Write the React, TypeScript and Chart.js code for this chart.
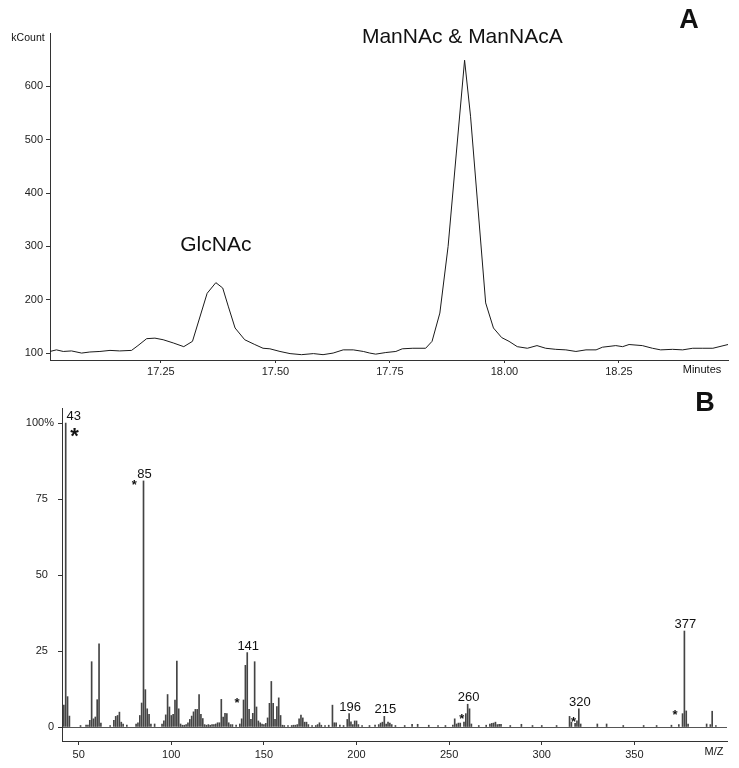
import React, { useEffect, useRef } from "react";
import { Chart, registerables } from "chart.js";

Chart.register(...registerables);

const FONT = "'Liberation Sans', Arial, Helvetica, sans-serif";

// ---------- Panel A : chromatogram ----------
const chromTime = [
  17.008, 17.022, 17.037, 17.055, 17.077, 17.095, 17.117, 17.139, 17.16, 17.186,
  17.2, 17.219, 17.237, 17.255, 17.277, 17.3, 17.319, 17.351, 17.37, 17.385,
  17.397, 17.412, 17.433, 17.455, 17.473, 17.488, 17.51, 17.532, 17.557, 17.583,
  17.604, 17.626, 17.648, 17.67, 17.692, 17.706, 17.719, 17.741, 17.763, 17.777,
  17.8, 17.828, 17.842, 17.859, 17.877, 17.895, 17.913, 17.926, 17.959, 17.976,
  17.994, 18.01, 18.028, 18.05, 18.071, 18.09, 18.112, 18.134, 18.156, 18.178,
  18.2, 18.214, 18.243, 18.258, 18.272, 18.301, 18.323, 18.341, 18.367, 18.389,
  18.411, 18.433, 18.455, 18.488,
];
const chromCount = [
  103, 106, 103, 104, 100, 102, 103, 105, 104, 105,
  114, 127, 128, 125, 119, 112, 122, 212, 232, 222,
  188, 147, 125, 116, 109, 108, 103, 99, 97, 99,
  97, 100, 106, 106, 103, 100, 98, 101, 103, 108,
  109, 109, 122, 175, 300, 475, 649, 544, 194, 147,
  129, 122, 112, 109, 114, 109, 107, 106, 103, 106,
  106, 111, 114, 112, 116, 114, 109, 106, 107, 106,
  109, 109, 109, 116,
];
const chromXTicks = [17.25, 17.5, 17.75, 18.0, 18.25];
const chromYTicks = [100, 200, 300, 400, 500, 600];
const peakNames = ["GlcNAc", "ManNAc & ManNAcA"];
const peakNameTime = [17.37, 17.908];
const peakNameCount = [303, 693];

// ---------- Panel B : mass spectrum ----------
const specMz = [
  42, 43, 44, 45, 51, 54, 55, 56, 57, 58, 59, 60, 61, 62, 67, 69, 70, 71, 72, 73,
  74, 76, 81, 82, 83, 84, 85, 86, 87, 88, 89, 91, 95, 96, 97, 98, 99, 100, 101, 102,
  103, 104, 105, 106, 107, 108, 109, 110, 111, 112, 113, 114, 115, 116, 117, 118, 119, 120, 121, 122,
  123, 124, 125, 126, 127, 128, 129, 130, 131, 132, 133, 135, 137, 138, 139, 140, 141, 142, 143, 144,
  145, 146, 147, 148, 149, 150, 151, 152, 153, 154, 155, 156, 157, 158, 159, 160, 161, 163, 165, 166,
  167, 168, 169, 170, 171, 172, 173, 174, 176, 178, 179, 180, 181, 183, 185, 187, 188, 189, 191, 193,
  195, 196, 197, 198, 199, 200, 201, 203, 207, 210, 212, 213, 214, 215, 216, 217, 218, 219, 221, 226,
  230, 233, 239, 244, 248, 252, 253, 254, 255, 256, 258, 259, 260, 261, 262, 266, 270, 272, 273, 274,
  275, 276, 277, 278, 283, 289, 295, 300, 308, 315, 316, 318, 319, 320, 321, 330, 335, 344, 355, 362,
  370, 374, 376, 377, 378, 379, 389, 391, 392, 394,
];
const specPct = [
  7.2, 100, 10, 3.6, 0.5, 0.6, 0.6, 2.2, 21.5, 2.7, 3.3, 9, 27.4, 1.3, 0.5, 2.2, 3.5, 3.8, 4.9, 1.6,
  1.0, 0.6, 1.0, 1.4, 3.8, 7.9, 81, 12.3, 6, 4.2, 1.0, 1.0, 1.0, 2, 4, 10.7, 6.6, 3.8, 4.2, 8.9,
  21.7, 6, 1.0, 0.6, 0.6, 0.8, 1.4, 2.5, 3.6, 5, 5.8, 5.8, 10.7, 4.2, 2.8, 0.8, 0.6, 0.8, 0.6, 0.8,
  0.8, 1.0, 1.4, 1.4, 9.1, 3.3, 4.5, 4.4, 1.4, 0.8, 0.8, 0.6, 1.0, 2.7, 8.9, 20.3, 24.5, 5.8, 2.5, 4.5,
  21.5, 6.6, 2.0, 1.4, 1.0, 0.8, 1.2, 3, 7.8, 15, 7.8, 2.5, 6.7, 9.6, 3.8, 0.6, 0.5, 0.5, 0.5, 0.6,
  0.6, 0.8, 2.7, 3.9, 3, 1.6, 1.6, 0.8, 0.5, 0.5, 0.8, 1.4, 0.6, 0.5, 0.6, 7.2, 1.4, 1.4, 0.6, 0.5,
  2.5, 4.4, 1.7, 0.8, 2.0, 2.0, 0.8, 0.5, 0.5, 0.6, 0.8, 1.3, 1.6, 3.5, 1.0, 1.6, 1.3, 0.8, 0.5, 0.5,
  0.9, 0.9, 0.6, 0.5, 0.5, 0.6, 2.7, 1.0, 1.3, 1.3, 1.6, 4.4, 7.5, 6, 1.0, 0.5, 0.6, 1.0, 1.2, 1.3,
  1.6, 0.8, 0.9, 0.9, 0.5, 0.9, 0.5, 0.5, 0.5, 3.5, 1.6, 1.2, 2.0, 6, 1.0, 1.0, 1.0, 0.5, 0.5, 0.5,
  0.6, 0.8, 4.4, 31.6, 5.3, 1.0, 1.0, 0.8, 5.2, 0.5,
];
const specXTicks = [50, 100, 150, 200, 250, 300, 350];
const specYTicks = [0, 25, 50, 75, 100];
const peakLabels = [43, 85, 141, 196, 215, 260, 320, 377];
const starMz = [47.7, 80, 135.5, 256.8, 317.1, 372];
const starPct = [97.6, 80.8, 9.1, 3.8, 2.9, 5.2];

const AXIS = "#333";

const chromPlugin = {
  id: "chromText",
  afterDraw(chart: any) {
    const { ctx, chartArea, scales } = chart;
    const x = scales.x;
    const y = scales.y;
    ctx.save();
    ctx.fillStyle = "#111";
    ctx.textAlign = "center";
    ctx.textBaseline = "middle";
    ctx.font = `21px ${FONT}`;
    peakNames.forEach((n, i) => {
      ctx.fillText(n, x.getPixelForValue(peakNameTime[i]), y.getPixelForValue(peakNameCount[i]));
    });
    ctx.font = `bold 27px ${FONT}`;
    ctx.fillText("A", chartArea.right - 39, chartArea.top - 12);
    ctx.font = `10.5px ${FONT}`;
    ctx.fillText("kCount", chartArea.left - 22, chartArea.top + 5);
    ctx.font = `11px ${FONT}`;
    ctx.fillText("Minutes", chartArea.right - 26, chartArea.bottom + 10);
    ctx.restore();
  },
};

const specPlugin = {
  id: "specText",
  afterDraw(chart: any) {
    const { ctx, chartArea, scales } = chart;
    const x = scales.x;
    const y = scales.y;
    ctx.save();
    ctx.fillStyle = "#111";
    ctx.textAlign = "center";
    ctx.textBaseline = "alphabetic";
    ctx.font = `13px ${FONT}`;
    peakLabels.forEach((m) => {
      const idx = specMz.indexOf(m);
      const top = y.getPixelForValue(specPct[idx]);
      const dx = m === 43 ? 8 : 1;
      ctx.fillText(String(m), x.getPixelForValue(m) + dx, top - 3);
    });
    starMz.forEach((m, i) => {
      const size = i === 0 ? 22 : 13;
      ctx.font = `bold ${size}px ${FONT}`;
      ctx.fillText("*", x.getPixelForValue(m), y.getPixelForValue(starPct[i]) + size * 0.57);
    });
    ctx.font = `bold 27px ${FONT}`;
    ctx.fillText("B", chartArea.right - 22, chartArea.top + 3);
    ctx.font = `11px ${FONT}`;
    ctx.fillText("M/Z", chartArea.right - 13, chartArea.bottom + 14);
    ctx.restore();
  },
};

export default function App() {
  const refA = useRef<HTMLCanvasElement>(null);
  const refB = useRef<HTMLCanvasElement>(null);

  useEffect(() => {
    Chart.defaults.font.family = FONT;
    Chart.defaults.color = "#222";

    const chartA = new Chart(refA.current as HTMLCanvasElement, {
      type: "line",
      data: {
        datasets: [
          {
            data: chromTime.map((t, i) => ({ x: t, y: chromCount[i] })),
            borderColor: "#1a1a1a",
            borderWidth: 1,
            pointRadius: 0,
            tension: 0,
            fill: false,
          },
        ],
      },
      options: {
        animation: false,
        responsive: false,
        devicePixelRatio: 1,
        layout: { padding: { left: 0, right: 11, top: 33, bottom: 0 } },
        plugins: { legend: { display: false }, tooltip: { enabled: false } },
        scales: {
          x: {
            type: "linear",
            min: 17.008,
            max: 18.488,
            afterBuildTicks: (s: any) => {
              s.ticks = chromXTicks.map((v) => ({ value: v }));
            },
            afterFit: (s: any) => {
              s.height = 25;
            },
            ticks: {
              autoSkip: false,
              maxRotation: 0,
              padding: 2,
              font: { size: 11 },
              color: "#222",
              callback: (v: any) => Number(v).toFixed(2),
            },
            grid: { drawOnChartArea: false, drawTicks: true, tickLength: 3, color: AXIS },
            border: { display: true, color: AXIS, width: 1 },
          },
          y: {
            type: "linear",
            min: 87,
            max: 700,
            afterBuildTicks: (s: any) => {
              s.ticks = chromYTicks.map((v) => ({ value: v }));
            },
            afterFit: (s: any) => {
              s.width = 50;
            },
            ticks: { padding: 3, font: { size: 11 }, color: "#222" },
            grid: { drawOnChartArea: false, drawTicks: true, tickLength: 4, color: AXIS },
            border: { display: true, color: AXIS, width: 1 },
          },
        },
      },
      plugins: [chromPlugin],
    } as any);

    const chartB = new Chart(refB.current as HTMLCanvasElement, {
      type: "bar",
      data: {
        datasets: [
          {
            data: specMz.map((m, i) => ({ x: m, y: specPct[i] })),
            backgroundColor: "#444",
            borderWidth: 0,
            barThickness: 1,
          },
        ],
      },
      options: {
        animation: false,
        responsive: false,
        devicePixelRatio: 1,
        layout: { padding: { left: 0, right: 12, top: 23, bottom: 0 } },
        plugins: { legend: { display: false }, tooltip: { enabled: false } },
        scales: {
          x: {
            type: "linear",
            min: 41,
            max: 400,
            offset: false,
            afterBuildTicks: (s: any) => {
              s.ticks = specXTicks.map((v) => ({ value: v }));
            },
            afterFit: (s: any) => {
              s.height = 27;
            },
            ticks: {
              autoSkip: false,
              maxRotation: 0,
              padding: 3,
              font: { size: 11 },
              color: "#222",
            },
            grid: { offset: false, drawOnChartArea: false, drawTicks: true, tickLength: 4, color: AXIS },
            border: { display: true, color: AXIS, width: 1 },
          },
          y: {
            type: "linear",
            min: -4.6,
            max: 105,
            afterBuildTicks: (s: any) => {
              s.ticks = specYTicks.map((v) => ({ value: v }));
            },
            afterFit: (s: any) => {
              s.width = 62;
            },
            ticks: {
              padding: 4,
              font: { size: 11 },
              color: "#222",
              callback: (v: any) => (Number(v) === 100 ? "100%" : Number(v) === 0 ? String(v) : `${v}  `),
            },
            grid: {
              drawOnChartArea: true,
              drawTicks: true,
              tickLength: 4,
              color: (c: any) => (c.tick && c.tick.value === 0 ? "#555" : "rgba(0,0,0,0)"),
              tickColor: AXIS,
            },
            border: { display: true, color: AXIS, width: 1 },
          },
        },
      },
      plugins: [specPlugin],
    } as any);

    return () => {
      chartA.destroy();
      chartB.destroy();
    };
  }, []);

  return (
    <div style={{ position: "fixed", left: 0, top: 0, width: 739, height: 768, background: "#fff" }}>
      <canvas ref={refA} width={739} height={385} style={{ position: "absolute", left: 0, top: 0 }} />
      <canvas ref={refB} width={739} height={383} style={{ position: "absolute", left: 0, top: 385 }} />
    </div>
  );
}
